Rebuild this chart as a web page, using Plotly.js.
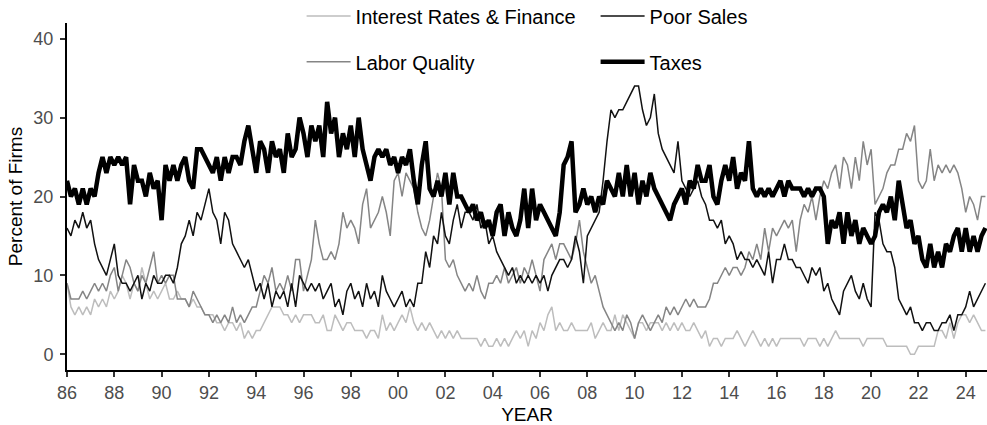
<!DOCTYPE html>
<html>
<head>
<meta charset="utf-8">
<script src="https://cdn.plot.ly/plotly-3.0.1.min.js"></script>
<style>
html, body { margin: 0; padding: 0; background: #ffffff; }
#chart { width: 987px; height: 425px; }
</style>
</head>
<body>
<div id="chart"></div>
<script>
// Time axis: data read every two months from Jan 1986
const startYear = 1986;
const pointsPerYear = 6;

const seriesNames = ['Interest Rates & Finance', 'Labor Quality', 'Poor Sales', 'Taxes'];

const interestRates = [
  9, 6, 5, 6, 5, 6,      // 1986
  5, 7, 6, 7, 6, 8,      // 1987
  7, 8, 10, 9, 7, 9,     // 1988
  8, 11, 9, 7, 8, 7,     // 1989
  8, 9, 7, 7, 8, 7,      // 1990
  7, 6, 7, 6, 6, 5,      // 1991
  5, 5, 4, 4, 3, 4,      // 1992
  4, 3, 4, 2, 3, 2,      // 1993
  3, 3, 4, 5, 6, 6,      // 1994
  6, 5, 5, 4, 5, 4,      // 1995
  5, 5, 5, 4, 4, 5,      // 1996
  3, 3, 5, 4, 3, 4,      // 1997
  4, 3, 3, 3, 2, 3,      // 1998
  3, 2, 5, 3, 4, 3,      // 1999
  4, 5, 4, 6, 4, 3,      // 2000
  4, 3, 4, 3, 2, 3,      // 2001
  2, 3, 2, 3, 2, 2,      // 2002
  2, 2, 2, 1, 2, 1,      // 2003
  1, 2, 1, 2, 1, 2,      // 2004
  3, 2, 3, 1, 3, 2,      // 2005
  4, 3, 5, 6, 3, 4,      // 2006
  3, 3, 4, 3, 3, 3,      // 2007
  3, 4, 2, 3, 4, 3,      // 2008
  3, 5, 3, 5, 4, 3,      // 2009
  2, 4, 4, 3, 4, 4,      // 2010
  4, 3, 4, 3, 4, 3,      // 2011
  4, 3, 3, 4, 3, 2,      // 2012
  3, 1, 2, 2, 1, 2,      // 2013
  2, 2, 3, 2, 1, 2,      // 2014
  3, 2, 1, 2, 1, 2,      // 2015
  1, 2, 2, 2, 2, 2,      // 2016
  2, 1, 2, 2, 2, 1,      // 2017
  2, 1, 2, 3, 2, 2,      // 2018
  2, 2, 2, 2, 1, 2,      // 2019
  2, 2, 2, 2, 1, 1,      // 2020
  1, 1, 1, 1, 0, 0,      // 2021
  1, 1, 1, 1, 1, 3,      // 2022
  3, 2, 4, 2, 4, 5,      // 2023
  5, 4, 5, 4, 3, 3       // 2024
];

const laborQuality = [
  9, 7, 7, 7, 8, 7,      // 1986
  8, 9, 8, 9, 8, 10,     // 1987
  11, 8, 10, 12, 11, 9,  // 1988
  8, 10, 9, 11, 13, 9,   // 1989
  10, 9, 10, 10, 7, 7,   // 1990
  7, 6, 8, 7, 6, 5,      // 1991
  5, 4, 5, 4, 5, 4,      // 1992
  6, 4, 5, 4, 5, 6,      // 1993
  6, 8, 10, 9, 11, 8,    // 1994
  9, 8, 10, 8, 12, 12,   // 1995
  8, 10, 12, 17, 14, 12, // 1996
  12, 13, 12, 14, 18, 16,// 1997
  17, 16, 14, 19, 21, 16,// 1998
  17, 18, 20, 18, 15, 22,// 1999
  23, 20, 23, 22, 21, 18,// 2000
  16, 15, 17, 20, 23, 21,// 2001
  12, 11, 12, 10, 9, 8,  // 2002
  9, 8, 10, 8, 7, 9,     // 2003
  9, 10, 9, 11, 9, 10,   // 2004
  11, 9, 11, 10, 12, 10, // 2005
  8, 12, 13, 14, 12, 14, // 2006
  14, 13, 12, 14, 17, 13,// 2007
  11, 9, 10, 8, 6, 5,    // 2008
  4, 3, 4, 3, 5, 4,      // 2009
  2, 4, 5, 4, 3, 4,      // 2010
  5, 4, 6, 5, 6, 5,      // 2011
  6, 7, 6, 7, 6, 6,      // 2012
  6, 7, 9, 9, 10, 11,    // 2013
  10, 11, 11, 10, 11, 13,// 2014
  12, 14, 12, 16, 13, 16,// 2015
  15, 16, 17, 16, 17, 13,// 2016
  17, 19, 18, 20, 17, 20,// 2017
  22, 21, 23, 24, 21, 25,// 2018
  24, 21, 25, 22, 27, 24,// 2019
  26, 19, 20, 21, 23, 24,// 2020
  24, 26, 26, 28, 27, 29,// 2021
  22, 21, 22, 26, 22, 24,// 2022
  23, 24, 23, 24, 23, 21,// 2023
  18, 20, 19, 17, 20, 20 // 2024
];

const poorSales = [
  16, 15, 17, 16, 18, 16,// 1986
  17, 14, 12, 11, 10, 12,// 1987
  14, 10, 9, 9, 8, 9,    // 1988
  10, 7, 9, 8, 10, 9,    // 1989
  9, 10, 10, 9, 11, 14,  // 1990
  15, 17, 15, 18, 17, 19,// 1991
  21, 18, 17, 14, 18, 17,// 1992
  14, 13, 12, 11, 12, 10,// 1993
  8, 9, 7, 9, 6, 8,      // 1994
  7, 8, 6, 9, 6, 10,     // 1995
  9, 8, 9, 8, 9, 7,      // 1996
  8, 9, 6, 7, 5, 8,      // 1997
  9, 7, 8, 6, 9, 7,      // 1998
  8, 6, 10, 8, 7, 6,     // 1999
  7, 8, 6, 7, 6, 9,      // 2000
  9, 13, 11, 15, 14, 18, // 2001
  15, 14, 17, 19, 16, 18,// 2002
  18, 17, 19, 16, 17, 14,// 2003
  15, 13, 12, 11, 10, 11,// 2004
  9, 10, 9, 10, 9, 10,   // 2005
  9, 10, 8, 10, 11, 12,  // 2006
  12, 11, 12, 15, 13, 9, // 2007
  15, 16, 17, 18, 22, 27,// 2008
  31, 30, 31, 31, 32, 33,// 2009
  34, 34, 31, 29, 30, 33,// 2010
  28, 26, 25, 24, 23, 27,// 2011
  22, 21, 20, 21, 22, 20,// 2012
  19, 17, 17, 16, 17, 14,// 2013
  15, 14, 12, 13, 12, 12,// 2014
  11, 12, 11, 10, 13, 9, // 2015
  12, 12, 14, 12, 12, 11,// 2016
  11, 10, 9, 11, 10, 11, // 2017
  8, 9, 7, 6, 5, 8,      // 2018
  9, 10, 8, 7, 9, 7,     // 2019
  6, 18, 17, 14, 13, 13, // 2020
  11, 7, 6, 5, 6, 4,     // 2021
  4, 3, 4, 4, 3, 3,      // 2022
  4, 4, 5, 3, 5, 5,      // 2023
  6, 8, 6, 7, 8, 9       // 2024
];

const taxes = [
  22, 20, 21, 19, 21, 19,// 1986
  21, 20, 23, 25, 23, 25,// 1987
  24, 25, 24, 25, 19, 24,// 1988
  22, 22, 20, 23, 21, 22,// 1989
  17, 24, 22, 24, 22, 24,// 1990
  25, 22, 21, 26, 26, 25,// 1991
  24, 23, 25, 22, 25, 23,// 1992
  25, 25, 24, 27, 29, 26,// 1993
  23, 27, 26, 23, 27, 25,// 1994
  26, 23, 28, 25, 26, 30,// 1995
  28, 25, 29, 27, 29, 25,// 1996
  32, 28, 30, 25, 28, 26,// 1997
  29, 25, 30, 26, 24, 22,// 1998
  25, 26, 25, 26, 24, 25,// 1999
  23, 25, 24, 26, 22, 19,// 2000
  24, 27, 21, 20, 22, 20,// 2001
  23, 19, 23, 20, 20, 19,// 2002
  18, 19, 17, 18, 16, 17,// 2003
  15, 18, 19, 15, 18, 16,// 2004
  15, 17, 21, 16, 21, 17,// 2005
  19, 18, 17, 16, 15, 18,// 2006
  24, 25, 27, 18, 19, 21,// 2007
  19, 20, 18, 20, 19, 22,// 2008
  21, 20, 23, 20, 24, 20,// 2009
  23, 19, 22, 20, 23, 21,// 2010
  20, 19, 18, 17, 19, 20,// 2011
  21, 19, 22, 21, 24, 22,// 2012
  22, 24, 20, 19, 22, 24,// 2013
  22, 25, 21, 23, 22, 27,// 2014
  21, 20, 21, 20, 21, 20,// 2015
  21, 22, 20, 22, 21, 21,// 2016
  21, 20, 21, 20, 21, 21,// 2017
  20, 14, 17, 16, 18, 14,// 2018
  18, 15, 17, 14, 16, 15,// 2019
  14, 15, 18, 19, 18, 20,// 2020
  17, 22, 19, 16, 17, 14,// 2021
  15, 12, 11, 14, 11, 13,// 2022
  11, 14, 13, 15, 16, 13,// 2023
  16, 13, 15, 13, 15, 16 // 2024
];

const tickYears = [1986, 1988, 1990, 1992, 1994, 1996, 1998, 2000, 2002, 2004, 2006, 2008, 2010, 2012, 2014, 2016, 2018, 2020, 2022, 2024];
const tickLabels = ['86', '88', '90', '92', '94', '96', '98', '00', '02', '04', '06', '08', '10', '12', '14', '16', '18', '20', '22', '24'];
const yTicks = [0, 10, 20, 30, 40];

function timeAxis(n) {
  const out = [];
  for (let i = 0; i < n; i++) out.push(startYear + i / pointsPerYear);
  return out;
}

const FONT = 'Liberation Sans, Arial, Helvetica, sans-serif';

const traces = [
  { y: interestRates, name: seriesNames[0], color: '#bdbdbd', width: 1.5, legend: 'legend' },
  { y: laborQuality,  name: seriesNames[1], color: '#858585', width: 1.5, legend: 'legend2' },
  { y: poorSales,     name: seriesNames[2], color: '#111111', width: 1.5, legend: 'legend' },
  { y: taxes,         name: seriesNames[3], color: '#000000', width: 4.5, legend: 'legend2' }
].map(s => ({
  type: 'scatter',
  mode: 'lines',
  x: timeAxis(s.y.length),
  y: s.y,
  name: s.name,
  legend: s.legend,
  line: { color: s.color, width: s.width },
  hoverinfo: 'skip'
}));

const legendBase = {
  orientation: 'h',
  x: 0.255,
  xanchor: 'left',
  yanchor: 'middle',
  entrywidth: 235,
  entrywidthmode: 'pixels',
  itemwidth: 44,
  font: { family: FONT, size: 20, color: '#000000' },
  bgcolor: 'rgba(0,0,0,0)',
  borderwidth: 0
};

const axisBase = {
  showgrid: false,
  zeroline: false,
  showline: true,
  linecolor: '#000000',
  linewidth: 2,
  ticks: 'outside',
  ticklen: 5,
  tickwidth: 2,
  tickcolor: '#333333',
  tickfont: { family: FONT, size: 18, color: '#4d4d4d' },
  fixedrange: true
};

const layout = {
  width: 987,
  height: 425,
  margin: { l: 67, r: 0, t: 23, b: 55, autoexpand: false },
  paper_bgcolor: '#ffffff',
  plot_bgcolor: '#ffffff',
  font: { family: FONT, size: 17, color: '#000000' },
  showlegend: true,
  xaxis: Object.assign({}, axisBase, {
    range: [1986, 2024.9],
    tickmode: 'array',
    tickvals: tickYears,
    ticktext: tickLabels,
    title: { text: 'YEAR', font: { family: FONT, size: 19, color: '#000000' }, standoff: 10 }
  }),
  yaxis: Object.assign({}, axisBase, {
    range: [-2, 42],
    tickmode: 'array',
    tickvals: yTicks,
    ticktext: yTicks.map(String),
    ticklabelstandoff: 3,
    title: { text: 'Percent of Firms', font: { family: FONT, size: 19, color: '#000000' }, standoff: 6 }
  }),
  legend: Object.assign({}, legendBase, { y: 1.020 }),
  legend2: Object.assign({}, legendBase, { y: 0.888 }),
  hovermode: false
};

Plotly.newPlot('chart', traces, layout, { displayModeBar: false, staticPlot: true });
</script>
</body>
</html>
